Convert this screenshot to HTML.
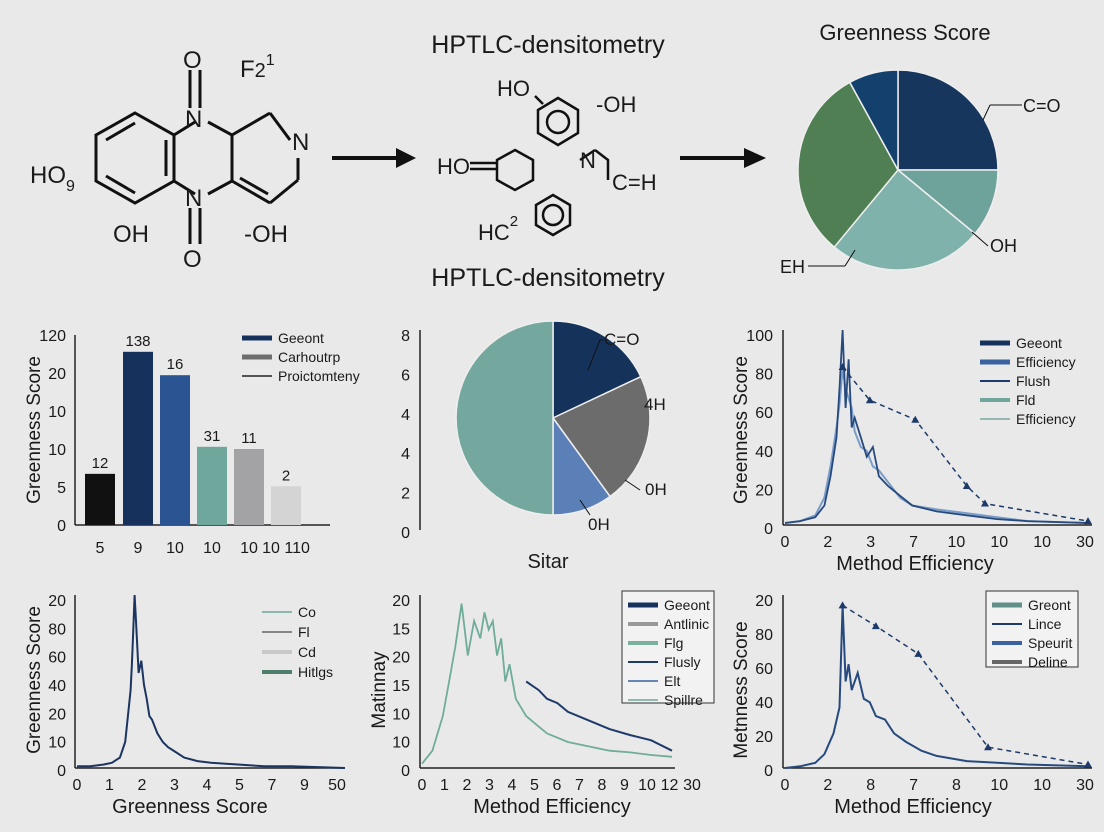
<!DOCTYPE html>
<html><head><meta charset="utf-8"><style>
html,body{margin:0;padding:0;background:#e9e9e9;}
svg{display:block;font-family:"Liberation Sans",sans-serif;}
text{fill:#1a1a1a;}
</style></head><body>
<svg id="s" width="1104" height="832" viewBox="0 0 1104 832">
<rect width="1104" height="832" fill="#e9e9e9"/>
<!-- chemistry left -->
<g stroke="#111" stroke-width="3" fill="none">
<polygon points="135,113 174,135 174,181 135,203 96,181 96,135"/>
<line x1="106" y1="140" x2="135" y2="123"/><line x1="106" y1="176" x2="135" y2="193"/><line x1="166" y1="140" x2="166" y2="176"/>
<polyline points="174,135 195,122"/><polyline points="174,181 195,194"/>
<polyline points="208,122 232,135 232,181 208,194"/>
<line x1="232" y1="135" x2="270" y2="113"/><line x1="270" y1="113" x2="290" y2="140"/>
<line x1="232" y1="181" x2="270" y2="203"/><line x1="270" y1="203" x2="298" y2="180"/><line x1="298" y1="180" x2="298" y2="158"/>
<line x1="240" y1="178" x2="268" y2="194"/>
<line x1="190" y1="70" x2="190" y2="108"/><line x1="200" y1="70" x2="200" y2="108"/>
<line x1="190" y1="208" x2="190" y2="244"/><line x1="200" y1="208" x2="200" y2="244"/>
</g>
<g font-size="24">
<text x="183" y="68">O</text><text x="185" y="127">N</text><text x="185" y="206">N</text><text x="183" y="267">O</text>
<text x="292" y="150">N</text><text x="240" y="77">F<tspan font-size="20">2</tspan><tspan font-size="16" dy="-12">1</tspan></text>
<text x="30" y="183">HO<tspan font-size="16" dy="8">9</tspan></text><text x="113" y="242">OH</text><text x="244" y="242">-OH</text>
</g>
<g><line x1="332" y1="158" x2="400" y2="158" stroke="#111" stroke-width="4"/><polygon points="396,148 416,158 396,168" fill="#111"/></g>
<g><line x1="680" y1="158" x2="748" y2="158" stroke="#111" stroke-width="4"/><polygon points="744,148 766,158 744,168" fill="#111"/></g>
<g stroke="#111" stroke-width="2.5" fill="none">
<polygon points="558,98 578,110 578,133 558,145 538,133 538,110"/><circle cx="558" cy="122" r="11"/>
<line x1="535" y1="96" x2="543" y2="104"/>
<polygon points="515,150 533,160 533,180 515,190 497,180 497,160"/><line x1="470" y1="163" x2="497" y2="163"/><line x1="470" y1="169" x2="497" y2="169"/>
<polygon points="553,195 570,205 570,225 553,235 536,225 536,205"/><circle cx="553" cy="215" r="10"/>
<polyline points="595,150 608,160 608,180"/><line x1="580" y1="160" x2="595" y2="150"/>
</g>
<g font-size="22">
<text x="497" y="96">HO</text><text x="596" y="112">-OH</text><text x="437" y="174">HO</text>
<text x="580" y="168">N</text><text x="612" y="190">C=H</text><text x="478" y="240">HC<tspan font-size="15" dy="-14">2</tspan></text>
</g>
<text x="548" y="53" font-size="25" text-anchor="middle">HPTLC-densitometry</text>
<text x="548" y="286" font-size="25" text-anchor="middle">HPTLC-densitometry</text>
<text x="905" y="40" font-size="22" text-anchor="middle">Greenness Score</text>
<g id="pie1"></g>
<g font-size="18">
<text x="1023" y="112">C=O</text><line x1="983" y1="120" x2="990" y2="105" stroke="#111"/><line x1="990" y1="105" x2="1022" y2="105" stroke="#111"/>
<text x="990" y="252">OH</text><line x1="972" y1="232" x2="988" y2="246" stroke="#111"/>
<text x="780" y="273">EH</text><line x1="808" y1="266" x2="845" y2="266" stroke="#111"/><line x1="845" y1="266" x2="855" y2="250" stroke="#111"/>
</g>
<g id="bar"></g>
<g id="pie2"></g>
<g id="c3"></g>
<g id="c4"></g>
<g id="c5"></g>
<g id="c6"></g>
</svg>
<script>
const NS="http://www.w3.org/2000/svg";
function mk(p,tag,a,txt){const e=document.createElementNS(NS,tag);for(const k in a)e.setAttribute(k,a[k]);if(txt!==undefined)e.textContent=txt;p.appendChild(e);return e;}
function lin(d0,d1,r0,r1){return v=>r0+(v-d0)/(d1-d0)*(r1-r0);}

// data
const pie1Values=[25,11,25,31,8];
const pie1Colors=["#16365e","#6da39a","#7fb2aa","#4f7f52","#14406d"];
const pie2Values=[18,22,10,50];
const pie2Colors=["#15325b","#6c6c6c","#5b80b8","#74a79d"];
const pie2Ticks=["8","6","4","4","2","0"];
const barCategories=["5","9","10","10","10","10 110"];
const barValues=[7,23.7,20.5,10.7,10.4,5.3];
const barLabels=["12","138","16","31","11","2"];
const barTicks=["120","20","10","10","5","0"];
const c3X=[0,0.5,1,1.3,1.5,1.7,1.8,1.9,2.0,2.1,2.2,2.3,2.5,2.7,2.9,3.1,3.4,3.8,4.2,5,6,7,8,10];
const c3Y=[1,2,4,10,25,45,70,100,60,85,50,55,45,35,40,25,20,15,10,7,5,3,2,1];
const c3Y2=[1,2,5,14,30,50,62,80,70,65,60,48,40,38,30,28,22,14,10,8,6,4,2,1];
const c3DashX=[1.9,2.8,4.3,6.0,6.6,10];
const c3DashY=[81,64,54,20,11,2];
const c3XTicks=["0","2","3","7","10","10","10","30"];
const c3YTicks=["0","20","40","60","80","100"];
const c4X=[0,0.5,1,1.3,1.6,1.8,1.9,2.0,2.05,2.1,2.15,2.2,2.25,2.3,2.4,2.5,2.6,2.7,2.8,3,3.2,3.4,3.7,4,4.5,5,6,7,8,10];
const c4Y=[1,1,2,3,6,15,30,45,60,80,100,85,70,55,62,48,40,30,28,20,15,12,9,6,4,3,2,1,1,0];
const c4XTicks=["0","1","2","3","4","5","7","9","50"];
const c4YTicks=["0","10","20","40","60","80","20"];
const c5X=[0,0.5,1,1.3,1.6,1.9,2.2,2.5,2.8,3,3.2,3.4,3.6,3.8,4,4.2,4.5,5,5.5,6,7,8,9,10,11,12];
const c5Y=[0.5,2,6,10,14,19,13,17,15,18,16,17,13,15,10,12,8,6,5,4,3,2.5,2,1.8,1.5,1.3];
const c5LineX=[5,5.3,5.6,6,6.5,7,8,9,10,11,12];
const c5LineY=[10,9.5,9,8,7.5,6.5,5.5,4.5,3.8,3.2,2];
const c5XTicks=["0","1","2","3","4","5","6","7","8","9","10","12","30"];
const c5YTicks=["0","10","10","15","20","15","20"];
const c6X=[0,0.5,1,1.3,1.6,1.8,1.9,2.0,2.1,2.2,2.4,2.6,2.8,3,3.3,3.6,4,4.5,5,6,7,8,10];
const c6Y=[0,1,3,8,20,35,94,50,60,45,55,40,38,30,28,20,15,10,7,4,3,2,1];
const c6DashX=[1.9,3.0,4.4,6.7,10];
const c6DashY=[94,82,66,12,2];
const c6XTicks=["0","2","8","7","8","10","10","30"];
const c6YTicks=["0","20","40","60","80","20"];

function pie(g,vals,cols,cx,cy,r,start){
  const tot=vals.reduce((a,b)=>a+b,0);let a=start;
  vals.forEach((v,i)=>{const b=a+v/tot*2*Math.PI;
    const x1=cx+r*Math.cos(a),y1=cy+r*Math.sin(a),x2=cx+r*Math.cos(b),y2=cy+r*Math.sin(b);
    const p=mk(g,"path",{d:`M${cx},${cy}L${x1},${y1}A${r},${r} 0 ${b-a>Math.PI?1:0} 1 ${x2},${y2}Z`,fill:cols[i],stroke:"#eee","stroke-width":1.5});
    
    
    a=b;});
}
pie(document.getElementById("pie1"),pie1Values,pie1Colors,898,170,100,-Math.PI/2);

function axes(g,x0,x1,y0,y1){mk(g,"line",{x1:x0,y1:y1,x2:x0,y2:y0,stroke:"#222","stroke-width":1.5});mk(g,"line",{x1:x0,y1:y0,x2:x1,y2:y0,stroke:"#222","stroke-width":1.5});}
function ticksY(g,labels,x,y0,y1){labels.forEach((l,i)=>{const y=y0+(y1-y0)*i/(labels.length-1);const t=mk(g,"text",{x:x,y:y+6,"font-size":16,"text-anchor":"end"},l);});}
function ticksX(g,labels,x0,x1,y){labels.forEach((l,i)=>{const x=x0+(x1-x0)*i/(labels.length-1);const t=mk(g,"text",{x:x,y:y,"font-size":16,"text-anchor":"middle"},l);});}
function ytitle(g,txt,x,y){const t=mk(g,"text",{x:x,y:y,"font-size":19,"text-anchor":"middle",transform:`rotate(-90 ${x} ${y})`},txt);}
function xtitle(g,txt,x,y){const t=mk(g,"text",{x:x,y:y,"font-size":20,"text-anchor":"middle"},txt);}
function legend(g,items,x,y,dy,box){if(box)mk(g,"rect",{x:x-6,y:y-14,width:box[0],height:box[1],fill:"#f2f2f2",stroke:"#333"});
  items.forEach((it,i)=>{const yy=y+i*dy;const L=mk(g,"line",{x1:x,y1:yy,x2:x+30,y2:yy,stroke:it[1],"stroke-width":it[2]||4});
    const t=mk(g,"text",{x:x+36,y:yy+5,"font-size":14},it[0]);});}
function path(g,xs,ys,sx,sy,st){const d=xs.map((v,i)=>(i?"L":"M")+sx(v).toFixed(1)+","+sy(ys[i]).toFixed(1)).join("");const p=mk(g,"path",Object.assign({d:d,fill:"none"},st));return p;}

// bar chart
(function(){const g=document.getElementById("bar");
 const sy=lin(0,26,525,335);const cols=["#111","#16325c","#2a5592","#6fa79d","#a3a3a5","#d4d4d4"];
 const xs=[85,123,160,197,234,271];
 axes(g,75,330,525,335);ticksY(g,barTicks,66,335,525);
 barValues.forEach((v,i)=>{const r=mk(g,"rect",{x:xs[i],y:sy(v),width:30,height:525-sy(v),fill:cols[i]});
   mk(g,"text",{x:xs[i]+15,y:sy(v)-6,"font-size":15,"text-anchor":"middle"},barLabels[i]);
   mk(g,"text",{x:xs[i]+15,y:553,"font-size":16,"text-anchor":"middle"},barCategories[i]);});
 ytitle(g,"Greenness Score",40,430);
 legend(g,[["Geeont","#16325c",5],["Carhoutrp","#6e6e6e",5],["Proictomteny","#222",1.5]],242,338,19);
})();
// pie 2
(function(){const g=document.getElementById("pie2");
 mk(g,"line",{x1:420,y1:330,x2:420,y2:530,stroke:"#222","stroke-width":1.5});ticksY(g,pie2Ticks,410,335,532);
 pie(g,pie2Values,pie2Colors,553,418,97,-Math.PI/2);
 mk(g,"text",{x:604,y:345,"font-size":17},"C=O");mk(g,"path",{d:"M588,370 L600,340 L604,340",stroke:"#111",fill:"none"});
 mk(g,"text",{x:644,y:410,"font-size":17},"4H");
 mk(g,"text",{x:645,y:495,"font-size":17},"0H");mk(g,"path",{d:"M625,480 L640,490",stroke:"#111",fill:"none"});
 mk(g,"text",{x:588,y:530,"font-size":17},"0H");mk(g,"path",{d:"M580,500 L590,515",stroke:"#111",fill:"none"});
 mk(g,"text",{x:548,y:568,"font-size":20,"text-anchor":"middle"},"Sitar");
})();
// c3
(function(){const g=document.getElementById("c3");const sx=lin(0,10,785,1088),sy=lin(0,100,525,330);
 axes(g,783,1092,525,330);ticksY(g,c3YTicks.slice().reverse(),773,335,528);ticksX(g,c3XTicks,785,1085,547);
 path(g,c3X,c3Y2,sx,sy,{stroke:"#7a9cc8","stroke-width":2});
 path(g,c3X,c3Y,sx,sy,{stroke:"#274a7e","stroke-width":1.8});
 path(g,c3DashX,c3DashY,sx,sy,{stroke:"#1d3a6a","stroke-width":1.5,"stroke-dasharray":"5,4"});
 c3DashX.forEach((v,i)=>mk(g,"polygon",{points:`${sx(v)},${sy(c3DashY[i])-4} ${sx(v)+4},${sy(c3DashY[i])+3} ${sx(v)-4},${sy(c3DashY[i])+3}`,fill:"#1d3a6a"}));
 ytitle(g,"Greenness Score",747,430);xtitle(g,"Method Efficiency",915,570);
 legend(g,[["Geeont","#16325c",5],["Efficiency","#3a62a0",5],["Flush","#1d3a6a",2],["Fld","#6fa79d",4],["Efficiency","#7aa8a0",1.5]],980,343,19);
})();
// c4
(function(){const g=document.getElementById("c4");const sx=lin(0,10,77,345),sy=lin(0,100,768,595);
 axes(g,75,345,768,595);ticksY(g,c4YTicks.slice().reverse(),66,600,770);ticksX(g,c4XTicks,77,337,790);
 path(g,c4X,c4Y,sx,sy,{stroke:"#1b3560","stroke-width":2});
 ytitle(g,"Greenness Score",40,680);xtitle(g,"Greenness Score",190,813);
 legend(g,[["Co","#6fa79d",1.5],["Fl","#666",1.5],["Cd","#c8c8c8",4],["Hitlgs","#4f7f6a",4]],262,612,20);
})();
// c5
(function(){const g=document.getElementById("c5");const sx=lin(0,12,422,672),sy=lin(0,20,768,595);
 axes(g,420,675,768,595);ticksY(g,c5YTicks.slice().reverse(),410,600,770);ticksX(g,c5XTicks,422,692,790);
 path(g,c5X,c5Y,sx,sy,{stroke:"#6fac9a","stroke-width":1.8});
 path(g,c5LineX,c5LineY,sx,sy,{stroke:"#1d3a6a","stroke-width":2});
 ytitle(g,"Matinnay",385,690);xtitle(g,"Method Efficiency",552,813);
 legend(g,[["Geeont","#16325c",5],["Antlinic","#999",4],["Flg","#7ab0a0",4],["Flusly","#1d3a6a",2],["Elt","#3a62a0",1.5],["Spillre","#6fa79d",1.5]],628,605,19,[92,112]);
})();
// c6
(function(){const g=document.getElementById("c6");const sx=lin(0,10,785,1088),sy=lin(0,100,768,595);
 axes(g,783,1092,768,595);ticksY(g,c6YTicks.slice().reverse(),773,600,770);ticksX(g,c6XTicks,785,1085,790);
 path(g,c6X,c6Y,sx,sy,{stroke:"#274a7e","stroke-width":2});
 path(g,c6DashX,c6DashY,sx,sy,{stroke:"#1d3a6a","stroke-width":1.5,"stroke-dasharray":"5,4"});
 c6DashX.forEach((v,i)=>mk(g,"polygon",{points:`${sx(v)},${sy(c6DashY[i])-4} ${sx(v)+4},${sy(c6DashY[i])+3} ${sx(v)-4},${sy(c6DashY[i])+3}`,fill:"#1d3a6a"}));
 ytitle(g,"Metnness Score",747,690);xtitle(g,"Method Efficiency",913,813);
 legend(g,[["Greont","#5f8f88",5],["Lince","#1d3a6a",2],["Speurit","#3a62a0",4],["Deline","#666",4]],992,605,19,[92,76]);
})();
</script>
</body></html>
